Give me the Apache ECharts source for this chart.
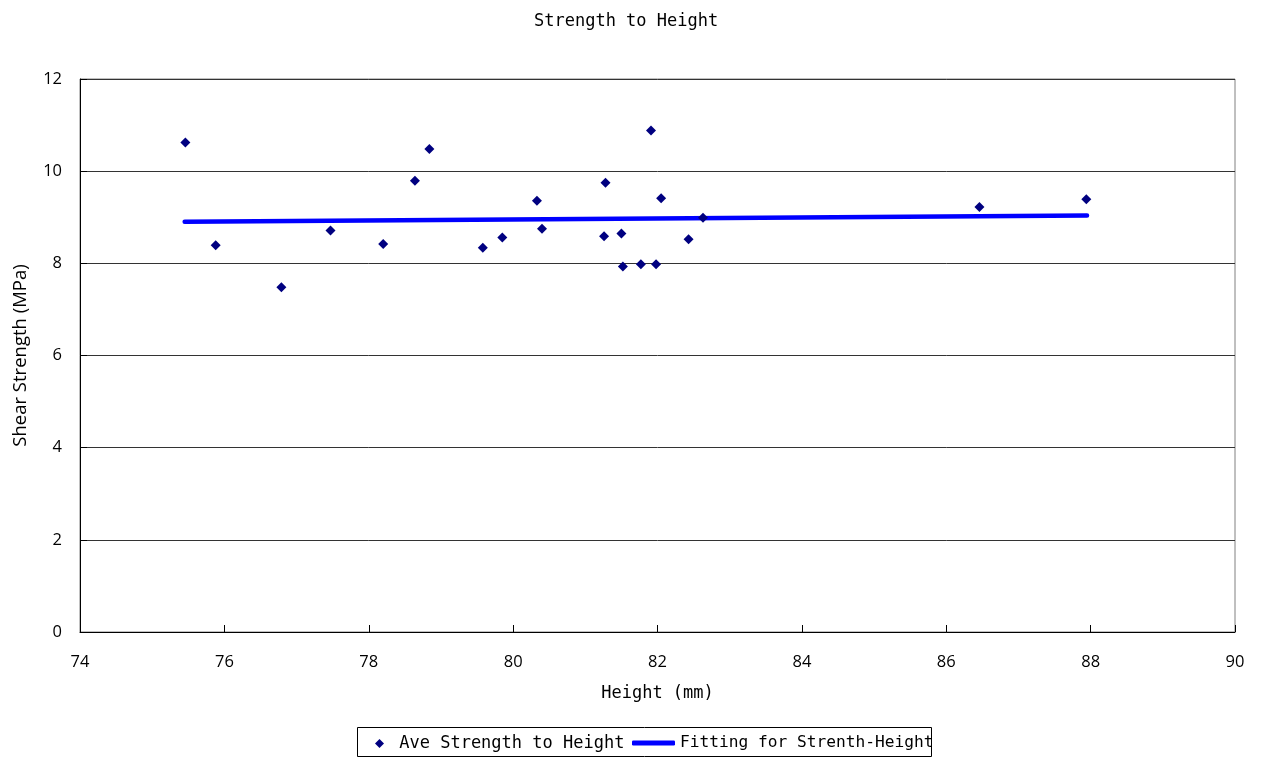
<!DOCTYPE html>
<html>
<head>
<meta charset="utf-8">
<script src="https://cdn.jsdelivr.net/npm/echarts@6/dist/echarts.min.js"></script>
<style>
  html, body { margin: 0; padding: 0; background: #fff; }
  #chart { width: 1263px; height: 758px; }
</style>
</head>
<body>
<div id="chart"></div>
<script>
// Measured specimen heights (mm) and their average shear strengths (MPa)
const heights = [75.46, 75.88, 76.79, 77.47, 78.20, 78.64, 78.84, 79.58, 79.85, 80.33, 80.40,
                 81.26, 81.28, 81.50, 81.52, 81.77, 81.91, 81.98, 82.05, 82.43, 82.63, 86.46, 87.94];
const strengths = [10.62, 8.39, 7.48, 8.71, 8.42, 9.79, 10.48, 8.34, 8.56, 9.36, 8.75,
                   8.59, 9.75, 8.65, 7.93, 7.98, 10.88, 7.98, 9.41, 8.52, 8.99, 9.22, 9.39];

// Linear fit end points
const fitHeights = [75.45, 87.95];
const fitStrengths = [8.90, 9.04];

// Axis tick settings
const xTicks = { min: 74, max: 90, interval: 2 };
const yTicks = { min: 0, max: 12, interval: 2 };

const pointSeriesName = 'Ave Strength to Height';
const fitSeriesName = 'Fitting for Strenth-Height';

const mono = '"DejaVu Sans Mono", monospace';
const sans = '"Open Sans", sans-serif';

const chart = echarts.init(document.getElementById('chart'));
chart.setOption({
  animation: false,
  backgroundColor: '#fff',
  title: {
    text: 'Strength to Height',
    left: 534,
    top: 13,
    padding: 0,
    textStyle: { fontFamily: mono, fontSize: 17, fontWeight: 'normal', color: '#000' }
  },
  grid: {
    left: 80, top: 79, width: 1155, height: 553,
    show: true, borderColor: '#808080', borderWidth: 1, backgroundColor: 'transparent'
  },
  legend: [
    {
      data: [pointSeriesName],
      left: 375, top: 735, padding: 0,
      itemWidth: 9, itemHeight: 9,
      formatter: n => ' ' + n,
      textStyle: { fontFamily: mono, fontSize: 17, color: '#000' }
    },
    {
      data: [{ name: fitSeriesName, icon: 'roundRect' }],
      left: 632, top: 735, padding: 0,
      itemWidth: 43, itemHeight: 5,
      textStyle: { fontFamily: mono, fontSize: 16.2, color: '#000' }
    }
  ],
  graphic: [{
    type: 'rect',
    shape: { x: 357.5, y: 727.5, width: 574, height: 29 },
    style: { fill: 'none', stroke: '#000', lineWidth: 1 },
    z: 0
  }],
  xAxis: {
    type: 'value',
    min: xTicks.min, max: xTicks.max, interval: xTicks.interval,
    name: 'Height (mm)',
    nameLocation: 'middle',
    nameGap: 53,
    nameTextStyle: { fontFamily: mono, fontSize: 17, color: '#000' },
    axisLine: { show: true, lineStyle: { color: '#000', width: 1 } },
    axisTick: { show: true, inside: true, length: 7, lineStyle: { color: '#000' } },
    axisLabel: { fontFamily: sans, fontSize: 16.5, color: '#000', margin: 22 },
    splitLine: { show: false }
  },
  yAxis: {
    type: 'value',
    min: yTicks.min, max: yTicks.max, interval: yTicks.interval,
    name: 'Shear Strength (MPa)',
    nameLocation: 'middle',
    nameRotate: 90,
    nameGap: 50,
    nameTextStyle: { fontFamily: sans, fontSize: 18.5, color: '#000' },
    axisLine: { show: true, lineStyle: { color: '#000', width: 1 } },
    axisTick: { show: true, inside: true, length: 7, lineStyle: { color: '#000' } },
    axisLabel: { fontFamily: sans, fontSize: 16.5, color: '#000', margin: 18 },
    splitLine: { show: true, lineStyle: { color: '#333', width: 1 } }
  },
  series: [
    {
      name: pointSeriesName,
      type: 'scatter',
      symbol: 'diamond',
      symbolSize: 10,
      itemStyle: { color: '#000080', opacity: 1 },
      data: heights.map((h, i) => [h, strengths[i]]),
      z: 3
    },
    {
      name: fitSeriesName,
      type: 'line',
      symbol: 'none',
      lineStyle: { color: '#0000ff', width: 4.5, cap: 'round' },
      itemStyle: { color: '#0000ff' },
      data: fitHeights.map((h, i) => [h, fitStrengths[i]]),
      z: 2
    }
  ]
});
</script>
</body>
</html>
